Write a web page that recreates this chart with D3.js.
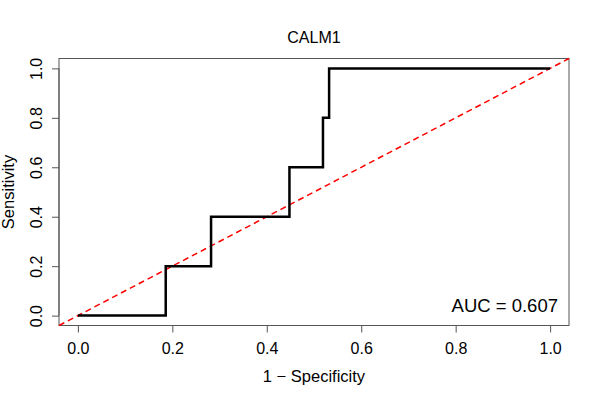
<!DOCTYPE html>
<html>
<head>
<meta charset="utf-8">
<script src="https://cdn.jsdelivr.net/npm/d3@7"></script>
<style>
  body { margin: 0; background: #fff; }
  text { font-family: "Liberation Sans", Arial, Helvetica, sans-serif; fill: #000; }
</style>
</head>
<body>
<script>
// ROC curve points (1 - specificity, sensitivity)
const fpr = [0, 0.186, 0.282, 0.448, 0.519, 0.532, 1];
const tpr = [0, 0.2, 0.4, 0.6, 0.8, 1, 1];
const ticks = [0, 0.2, 0.4, 0.6, 0.8, 1];
const title = "CALM1";
const aucLabel = "AUC = 0.607";

const width = 600, height = 400;
const margin = { top: 58.5, right: 31, bottom: 74.5, left: 59 };

const svg = d3.select("body").append("svg")
    .attr("width", width)
    .attr("height", height);

const x = d3.scaleLinear().domain([-0.04, 1.04]).range([margin.left, width - margin.right]);
const y = d3.scaleLinear().domain([-0.04, 1.04]).range([height - margin.bottom, margin.top]);

// x axis
const xAxis = svg.append("g")
    .attr("transform", `translate(0,${height - margin.bottom})`)
    .call(d3.axisBottom(x).tickValues(ticks).tickFormat(d3.format(".1f")).tickSize(7).tickSizeOuter(0));
xAxis.select(".domain").attr("d", `M${x(0)},0H${x(1)}`).attr("stroke", "#555");
xAxis.selectAll(".tick line").attr("stroke", "#555");
xAxis.selectAll(".tick text")
    .attr("y", 17)
    .attr("dy", "0.71em")
    .style("font-size", "16px");

// y axis
const yAxis = svg.append("g")
    .attr("transform", `translate(${margin.left},0)`)
    .call(d3.axisLeft(y).tickValues(ticks).tickFormat(d3.format(".1f")).tickSize(7).tickSizeOuter(0));
yAxis.select(".domain").attr("d", `M0,${y(0)}V${y(1)}`).attr("stroke", "#555");
yAxis.selectAll(".tick line").attr("stroke", "#555");
yAxis.selectAll(".tick text")
    .attr("x", null).attr("dy", null)
    .attr("transform", "translate(-17,0) rotate(-90)")
    .attr("text-anchor", "middle")
    .style("font-size", "16px");

// plot box
svg.append("rect")
    .attr("x", margin.left)
    .attr("y", margin.top)
    .attr("width", width - margin.left - margin.right)
    .attr("height", height - margin.top - margin.bottom)
    .attr("fill", "none")
    .attr("stroke", "#555")
    .attr("stroke-width", 1);

// reference diagonal
svg.append("line")
    .attr("x1", x(-0.04)).attr("y1", y(-0.04))
    .attr("x2", x(1.04)).attr("y2", y(1.04))
    .attr("stroke", "#ff0000")
    .attr("stroke-width", 1.5)
    .attr("stroke-dasharray", "6,4");

// ROC step line
const rocLine = d3.line()
    .x(i => x(fpr[i]))
    .y(i => y(tpr[i]))
    .curve(d3.curveStepAfter);

svg.append("path")
    .datum(d3.range(fpr.length))
    .attr("d", rocLine)
    .attr("fill", "none")
    .attr("stroke", "#000")
    .attr("stroke-width", 2.5);

// titles
svg.append("text")
    .attr("x", (x(-0.04) + x(1.04)) / 2)
    .attr("y", 42.5)
    .attr("text-anchor", "middle")
    .style("font-size", "16px")
    .text(title);

svg.append("text")
    .attr("x", (x(-0.04) + x(1.04)) / 2)
    .attr("y", 382)
    .attr("text-anchor", "middle")
    .style("font-size", "16.5px")
    .text("1 \u2212 Specificity");

svg.append("text")
    .attr("transform", `translate(14,${(y(-0.04) + y(1.04)) / 2}) rotate(-90)`)
    .attr("text-anchor", "middle")
    .style("font-size", "16.5px")
    .text("Sensitivity");

svg.append("text")
    .attr("x", 558)
    .attr("y", 311.5)
    .attr("text-anchor", "end")
    .style("font-size", "18.5px")
    .text(aucLabel);
</script>
</body>
</html>
